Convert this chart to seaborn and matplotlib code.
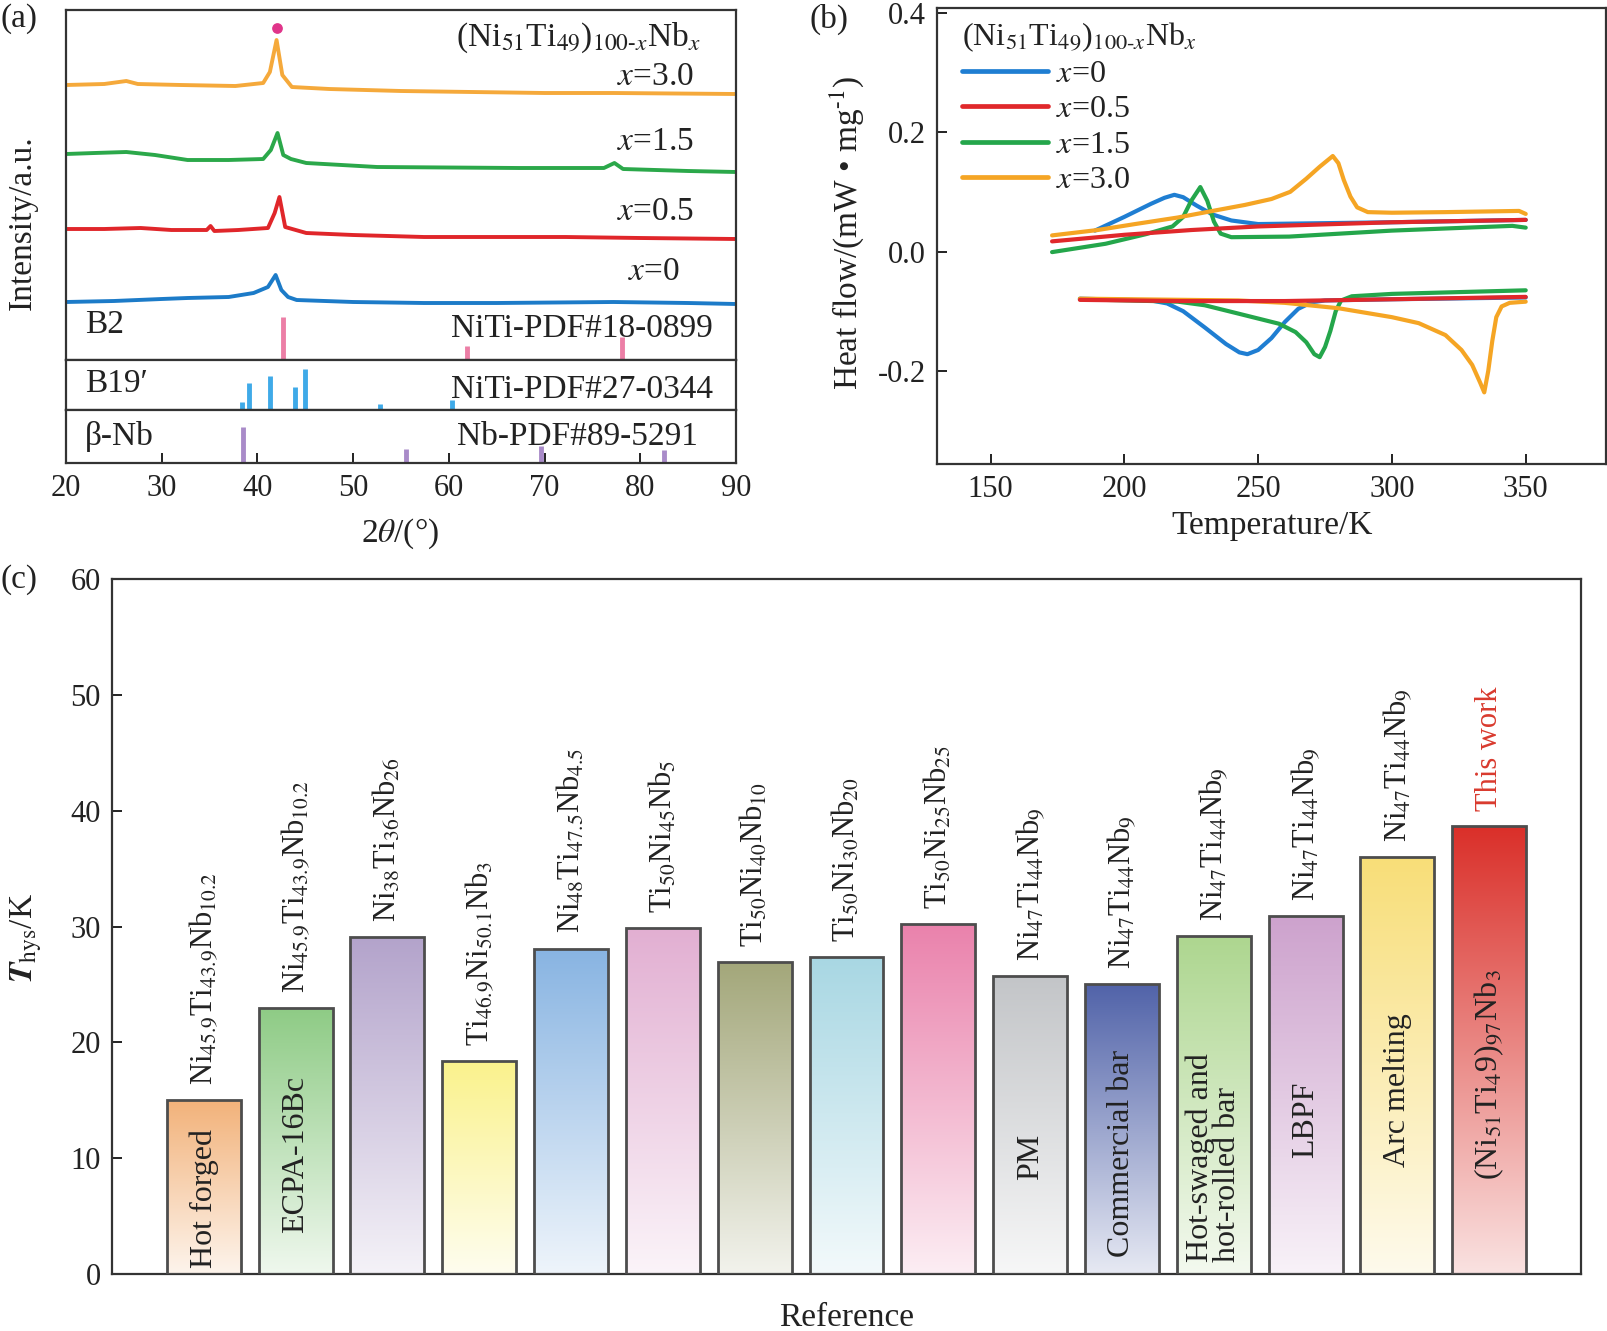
import numpy as np
import pandas as pd
import matplotlib
matplotlib.use('Agg')
import matplotlib.pyplot as plt
import seaborn as sns
from matplotlib.lines import Line2D
from matplotlib.ticker import FuncFormatter, MultipleLocator

# ---------------- data: panel (a) XRD ----------------
xrd_x0_t = [20, 25, 30, 32.7, 37, 39.6, 41.1, 41.9, 42.5, 43.2, 44.1, 50, 57.4, 65, 77.2, 85, 90]
xrd_x0_i = [58, 59, 61, 62, 63, 67, 73, 85, 70, 63, 60, 58, 57, 57, 58, 57, 56]
xrd_x05_t = [20, 24, 27.8, 31, 34.7, 35.1, 35.5, 38, 41.1, 41.8, 42.3, 42.9, 45.1, 50, 57.4, 72.2, 80, 90]
xrd_x05_i = [131, 131, 132, 130, 130, 134, 129, 130, 132, 147, 163, 133, 127, 125, 123, 123, 122, 121]
xrd_x15_t = [20, 23, 26.3, 29.3, 32.7, 37, 40.6, 41.4, 42.1, 42.7, 43.5, 45.1, 52.5, 67.3, 76.2, 77.3, 78.2, 85, 90]
xrd_x15_i = [206, 207, 208, 205, 200, 200, 201, 210, 227, 205, 201, 197, 193, 192, 192, 197, 191, 189, 188]
xrd_x30_t = [20, 24, 26.3, 27.5, 32, 37.7, 40.6, 41.3, 42.0, 42.6, 43.6, 47.5, 55, 62.4, 70, 77.2, 90]
xrd_x30_i = [275, 276, 279, 276, 275, 274, 277, 288, 320, 285, 273, 271, 269, 268, 267, 267, 266]
b2_marker = (42.05, 332)

b2_pos = [42.7, 61.9, 78.05]
b2_h = [43, 14, 23]
b19_pos = [38.4, 39.15, 41.3, 43.9, 45.0, 52.8, 60.3]
b19_h = [16, 54, 68, 46, 82, 12, 20]
nb_pos = [38.5, 55.5, 69.6, 82.5]
nb_h = [68, 26, 32, 25]

# ---------------- data: panel (b) DSC ----------------
dsc = {
    'x=0': dict(
        up_T=[189, 200, 210, 215, 218.7, 222, 227, 233, 240, 250, 300, 350],
        up_H=[0.035, 0.058, 0.080, 0.090, 0.095, 0.091, 0.077, 0.062, 0.052, 0.046, 0.049, 0.053],
        dn_T=[183.4, 210, 216, 222, 230, 238, 243, 246, 250, 255, 260, 265, 270, 275, 300, 350],
        dn_H=[-0.079, -0.082, -0.087, -0.100, -0.127, -0.155, -0.169, -0.172, -0.165, -0.145, -0.118,
              -0.096, -0.085, -0.082, -0.080, -0.077]),
    'x=1.5': dict(
        up_T=[173, 193, 208, 218, 222, 225, 228.4, 231, 233.5, 236, 240, 261.6, 299.8, 345, 350],
        up_H=[-0.001, 0.013, 0.029, 0.042, 0.058, 0.085, 0.108, 0.085, 0.050, 0.030, 0.024, 0.025, 0.035,
              0.043, 0.040],
        dn_T=[183.4, 220, 230, 242.6, 257.8, 264, 268, 271, 273, 275, 277, 279, 281, 285, 300, 350],
        dn_H=[-0.080, -0.084, -0.090, -0.104, -0.121, -0.135, -0.152, -0.172, -0.177, -0.160, -0.133,
              -0.100, -0.082, -0.075, -0.071, -0.065]),
    'x=3.0': dict(
        up_T=[173, 190, 204, 220, 233, 245, 255, 262, 268, 273, 277.9, 280, 282, 284.5, 287, 291, 300,
              320, 347.5, 350],
        up_H=[0.027, 0.036, 0.046, 0.057, 0.068, 0.078, 0.088, 0.100, 0.122, 0.142, 0.160, 0.148, 0.120,
              0.092, 0.074, 0.066, 0.065, 0.066, 0.068, 0.063],
        dn_T=[183.4, 242.6, 260, 280, 300, 310, 320, 326, 330, 333, 334.5, 336, 337.5, 339, 341, 344, 350],
        dn_H=[-0.079, -0.082, -0.086, -0.095, -0.110, -0.120, -0.140, -0.165, -0.190, -0.220, -0.236,
              -0.200, -0.150, -0.110, -0.092, -0.086, -0.084]),
    'x=0.5': dict(
        up_T=[173, 200, 225, 250, 300, 350],
        up_H=[0.017, 0.028, 0.036, 0.042, 0.049, 0.053],
        dn_T=[183.4, 220, 260, 300, 350],
        dn_H=[-0.081, -0.083, -0.083, -0.080, -0.076]),
}
legend_order = ['x=0', 'x=0.5', 'x=1.5', 'x=3.0']

# ---------------- data: panel (c) bars ----------------
ref_ids = [f'R{i}' for i in range(1, 16)]
thys = [15.0, 23.0, 29.1, 18.4, 28.1, 29.9, 26.9, 27.4, 30.2, 25.7, 25.0, 29.2, 30.9, 36.0, 38.7]
top_labels = [r'Ni$_{45.9}$Ti$_{43.9}$Nb$_{10.2}$', r'Ni$_{45.9}$Ti$_{43.9}$Nb$_{10.2}$',
              r'Ni$_{38}$Ti$_{36}$Nb$_{26}$', r'Ti$_{46.9}$Ni$_{50.1}$Nb$_{3}$',
              r'Ni$_{48}$Ti$_{47.5}$Nb$_{4.5}$', r'Ti$_{50}$Ni$_{45}$Nb$_{5}$',
              r'Ti$_{50}$Ni$_{40}$Nb$_{10}$', r'Ti$_{50}$Ni$_{30}$Nb$_{20}$',
              r'Ti$_{50}$Ni$_{25}$Nb$_{25}$', r'Ni$_{47}$Ti$_{44}$Nb$_{9}$',
              r'Ni$_{47}$Ti$_{44}$Nb$_{9}$', r'Ni$_{47}$Ti$_{44}$Nb$_{9}$',
              r'Ni$_{47}$Ti$_{44}$Nb$_{9}$', r'Ni$_{47}$Ti$_{44}$Nb$_{9}$', 'This work']
inner_labels = ['Hot forged', 'ECPA-16Bc', '', '', '', '', '', '', '', 'PM', 'Commercial bar',
                'Hot-swaged and\nhot-rolled bar', 'LBPF', 'Arc melting',
                r'(Ni$_{51}$Ti$_{4}$9)$_{97}$Nb$_{3}$']
inner_label_y = [0.5, 3.5, 0, 0, 0, 0, 0, 0, 0, 8.1, 1.5, 1.0, 10.0, 9.2, 8.1]
bar_colors = ['#F2B27A', '#8ECB85', '#B3A3CB', '#FAF28C', '#88B4E2', '#E2AFD2', '#A3A77A',
              '#A8D7E3', '#EA82AC', '#C3C5C8', '#5163A9', '#ADD68F', '#CDA2CD', '#F8DE78', '#DA2F29']

# ---------------- style ----------------
sns.set_theme(style='ticks')
plt.rcParams.update({
    'font.family': ['Liberation Serif', 'DejaVu Serif'],
    'mathtext.fontset': 'stix',
    'axes.unicode_minus': False,
    'axes.linewidth': 1.6,
    'axes.edgecolor': '#333333',
    'xtick.direction': 'in', 'ytick.direction': 'in',
    'xtick.major.size': 7, 'ytick.major.size': 7,
    'xtick.major.width': 1.4, 'ytick.major.width': 1.4,
    'xtick.labelsize': 22, 'ytick.labelsize': 22,
    'xtick.color': '#222222', 'ytick.color': '#222222',
    'text.color': '#222222',
    'xtick.major.pad': 8, 'ytick.major.pad': 8,
})

W, H = 1608, 1331
fig = plt.figure(figsize=(W / 100, H / 100), dpi=100)


def rect(l, t, r, b):
    return [l / W, 1 - b / H, (r - l) / W, (b - t) / H]


def ftext(x, y, s, **kw):
    return fig.text(x / W, 1 - y / H, s, **kw)


FS = 24

# ---------------- panel (a) ----------------
axa = fig.add_axes(rect(66, 10, 736, 360))
axa2 = fig.add_axes(rect(66, 360, 736, 410))
axa3 = fig.add_axes(rect(66, 410, 736, 463))

xrd_series = [(xrd_x0_t, xrd_x0_i, '#1C7BC8'), (xrd_x05_t, xrd_x05_i, '#E0262A'),
              (xrd_x15_t, xrd_x15_i, '#2BA84A'), (xrd_x30_t, xrd_x30_i, '#F5A93B')]
for tt, ii, c in xrd_series:
    sns.lineplot(x=tt, y=ii, color=c, lw=2.8, sort=False, estimator=None, ax=axa)
axa.scatter([b2_marker[0]], [b2_marker[1]], s=45, color='#E0348A', zorder=5)
axa.vlines(b2_pos, 0, b2_h, color='#EC7FA6', lw=3.5)
axa2.vlines(b19_pos, 0, b19_h, color='#3FAAE8', lw=3.5)
axa3.vlines(nb_pos, 0, nb_h, color='#A98BC9', lw=3.5)
axa.set_ylim(0, 350)
axa2.set_ylim(0, 100)
axa3.set_ylim(0, 100)
for a in (axa, axa2, axa3):
    a.set_xlim(20, 90)
    a.tick_params(left=False, labelleft=False, bottom=False, labelbottom=False)
    for s in a.spines.values():
        s.set_visible(True)
axa3.tick_params(bottom=True, labelbottom=True)
axa3.xaxis.set_major_locator(MultipleLocator(10))

ftext(579, 38, r'(Ni$_{51}$Ti$_{49}$)$_{100\text{-}x}$Nb$_{x}$', ha='center', va='center', fontsize=FS)
ftext(694, 77, r'$x$=3.0', ha='right', va='center', fontsize=FS)
ftext(694, 142, r'$x$=1.5', ha='right', va='center', fontsize=FS)
ftext(694, 212, r'$x$=0.5', ha='right', va='center', fontsize=FS)
ftext(680, 272, r'$x$=0', ha='right', va='center', fontsize=FS)
ftext(85, 325, 'B2', ha='left', va='center', fontsize=FS)
ftext(713, 329, 'NiTi-PDF#18-0899', ha='right', va='center', fontsize=FS)
ftext(85, 384, 'B19\u2032', ha='left', va='center', fontsize=FS)
ftext(713, 390, 'NiTi-PDF#27-0344', ha='right', va='center', fontsize=FS)
ftext(85, 437, '\u03b2-Nb', ha='left', va='center', fontsize=FS)
ftext(698, 437, 'Nb-PDF#89-5291', ha='right', va='center', fontsize=FS)
ftext(23, 223, 'Intensity/a.u.', rotation=90, ha='center', va='center', fontsize=FS)
ftext(400, 534, r'2$\theta$/(°)', ha='center', va='center', fontsize=FS)
ftext(19, 19, '(a)', ha='center', va='center', fontsize=FS)

# ---------------- panel (b) ----------------
axb = fig.add_axes(rect(937, 8, 1606, 464))
dsc_colors = {'x=0': '#1F7ED2', 'x=0.5': '#E0282B', 'x=1.5': '#24A64B', 'x=3.0': '#F5A524'}
for key, d in dsc.items():
    sns.lineplot(x=d['up_T'], y=d['up_H'], color=dsc_colors[key], lw=3.0, sort=False, estimator=None, ax=axb)
    sns.lineplot(x=d['dn_T'], y=d['dn_H'], color=dsc_colors[key], lw=3.0, sort=False, estimator=None, ax=axb)
axb.set_xlim(130, 380)
axb.set_ylim(-0.356, 0.408)
axb.yaxis.set_major_locator(MultipleLocator(0.2))
axb.yaxis.set_major_formatter(FuncFormatter(lambda v, p: f'{v:.1f}'))
axb.set_xticks([150, 200, 250, 300, 350])
handles = [Line2D([0], [0], color=dsc_colors[k], lw=3.4) for k in legend_order]
labels = [r'$x$' + k[1:] for k in legend_order]
leg = axb.legend(handles, labels, title=r'(Ni$_{51}$Ti$_{49}$)$_{100\text{-}x}$Nb$_{x}$',
                 loc='upper left', bbox_to_anchor=(962 / W, 1 - 20 / H), bbox_transform=fig.transFigure,
                 frameon=False, fontsize=23, title_fontsize=23, handlelength=2.7, handletextpad=0.25,
                 labelspacing=0.19, borderpad=0, borderaxespad=0, alignment='left')
ftext(847, 233, r'Heat flow/(mW • mg$^{\text{-}1}$)', rotation=90, ha='center', va='center', fontsize=FS)
ftext(1272, 526, 'Temperature/K', ha='center', va='center', fontsize=FS)
ftext(829, 19, '(b)', ha='center', va='center', fontsize=FS)

# ---------------- panel (c) ----------------
axc = fig.add_axes(rect(112, 579, 1581, 1274))
df = pd.DataFrame({'ref': ref_ids, 'thys': thys})
sns.barplot(data=df, x='ref', y='thys', hue='ref', palette=bar_colors, legend=False, width=0.805,
            saturation=1, edgecolor='#4d4d4d', linewidth=2.0, ax=axc, zorder=3)
for patch, col in zip(axc.patches, bar_colors):
    x0, y0 = patch.get_x(), patch.get_y()
    w, h = patch.get_width(), patch.get_height()
    top = np.array(matplotlib.colors.to_rgb(col))
    bot = 0.14 * top + 0.86 * np.ones(3)
    f = np.linspace(0, 1, 256)[:, None]
    grad = (top[None, :] * (1 - f) + bot[None, :] * f)[:, None, :]
    im = axc.imshow(grad, extent=[x0, x0 + w, y0, y0 + h], origin='upper', aspect='auto', zorder=2,
                    interpolation='bilinear')
    im.set_clip_path(patch)
    patch.set_facecolor('none')
for i, (v, lab) in enumerate(zip(thys, top_labels)):
    axc.text(i, v + 1.3, lab, rotation=90, ha='center', va='bottom', fontsize=22,
             color='#D93A2E' if lab == 'This work' else '#222222', zorder=4)
for i, lab in enumerate(inner_labels):
    if lab:
        axc.text(i, inner_label_y[i], lab, rotation=90, ha='center', va='bottom', fontsize=23,
                 ma='left', linespacing=0.95, zorder=4)
axc.set_xlim(-1.0, 15.0)
axc.set_ylim(0, 60)
axc.yaxis.set_major_locator(MultipleLocator(10))
axc.tick_params(bottom=False, labelbottom=False)
axc.set_xlabel('')
axc.set_ylabel('')
for s in axc.spines.values():
    s.set_visible(True)
ftext(26, 938, r'$\mathbfit{T}_{\mathrm{hys}}$/K', rotation=90, ha='center', va='center', fontsize=FS)
ftext(847, 1318, 'Reference', ha='center', va='center', fontsize=FS)
ftext(19, 580, '(c)', ha='center', va='center', fontsize=FS)

fig.savefig('out.png', dpi=100)
